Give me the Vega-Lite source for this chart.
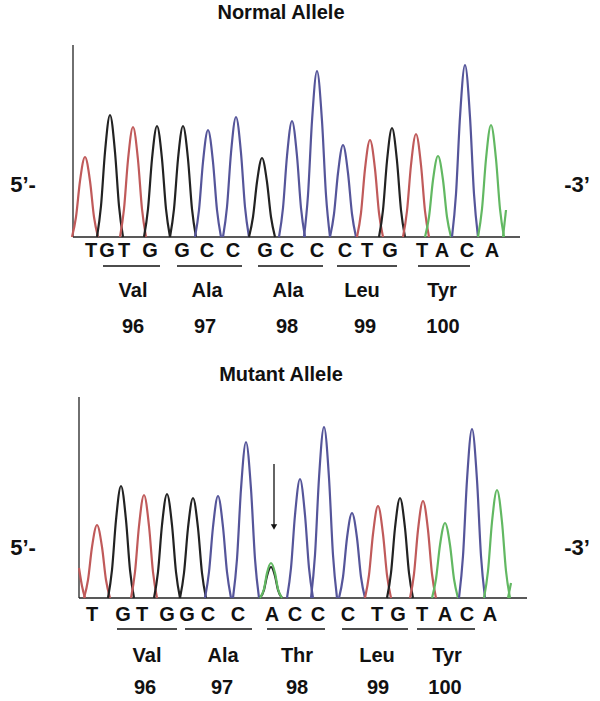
{
  "$schema": "https://vega.github.io/schema/vega-lite/v6.json",
  "background": "white",
  "padding": {"left": 0, "right": 0, "top": 3, "bottom": 0},
  "spacing": 0,
  "config": {"view": {"stroke": null}, "text": {"font": "Liberation Sans, Arial, sans-serif", "fontWeight": "bold", "color": "#111"}},
  "datasets": {
    "nt": [
      {"k":1,"b":"T","x":72,"y":0},{"k":1,"b":"T","x":76,"y":20},{"k":1,"b":"T","x":80,"y":56},{"k":1,"b":"T","x":85,"y":80},{"k":1,"b":"T","x":90,"y":56},{"k":1,"b":"T","x":94,"y":20},{"k":1,"b":"T","x":98,"y":0},
      {"k":2,"b":"G","x":97,"y":0},{"k":2,"b":"G","x":101,"y":31},{"k":2,"b":"G","x":105,"y":85},{"k":2,"b":"G","x":110,"y":122},{"k":2,"b":"G","x":115,"y":85},{"k":2,"b":"G","x":119,"y":31},{"k":2,"b":"G","x":123,"y":0},
      {"k":3,"b":"T","x":120,"y":0},{"k":3,"b":"T","x":124,"y":28},{"k":3,"b":"T","x":128,"y":77},{"k":3,"b":"T","x":133,"y":110},{"k":3,"b":"T","x":138,"y":77},{"k":3,"b":"T","x":142,"y":28},{"k":3,"b":"T","x":146,"y":0},
      {"k":4,"b":"G","x":144,"y":0},{"k":4,"b":"G","x":148,"y":28},{"k":4,"b":"G","x":152,"y":78},{"k":4,"b":"G","x":157,"y":111},{"k":4,"b":"G","x":162,"y":78},{"k":4,"b":"G","x":166,"y":28},{"k":4,"b":"G","x":170,"y":0},
      {"k":5,"b":"G","x":170,"y":0},{"k":5,"b":"G","x":174,"y":28},{"k":5,"b":"G","x":178,"y":78},{"k":5,"b":"G","x":183,"y":111},{"k":5,"b":"G","x":188,"y":78},{"k":5,"b":"G","x":192,"y":28},{"k":5,"b":"G","x":196,"y":0},
      {"k":6,"b":"C","x":195,"y":0},{"k":6,"b":"C","x":199,"y":27},{"k":6,"b":"C","x":203,"y":75},{"k":6,"b":"C","x":208,"y":107},{"k":6,"b":"C","x":213,"y":75},{"k":6,"b":"C","x":217,"y":27},{"k":6,"b":"C","x":221,"y":0},
      {"k":7,"b":"C","x":223,"y":0},{"k":7,"b":"C","x":227,"y":30},{"k":7,"b":"C","x":231,"y":84},{"k":7,"b":"C","x":236,"y":120},{"k":7,"b":"C","x":241,"y":84},{"k":7,"b":"C","x":245,"y":30},{"k":7,"b":"C","x":249,"y":0},
      {"k":8,"b":"G","x":249,"y":0},{"k":8,"b":"G","x":253,"y":20},{"k":8,"b":"G","x":257,"y":55},{"k":8,"b":"G","x":262,"y":79},{"k":8,"b":"G","x":267,"y":55},{"k":8,"b":"G","x":271,"y":20},{"k":8,"b":"G","x":275,"y":0},
      {"k":9,"b":"C","x":279,"y":0},{"k":9,"b":"C","x":283,"y":29},{"k":9,"b":"C","x":287,"y":81},{"k":9,"b":"C","x":292,"y":116},{"k":9,"b":"C","x":297,"y":81},{"k":9,"b":"C","x":301,"y":29},{"k":9,"b":"C","x":305,"y":0},
      {"k":10,"b":"C","x":304,"y":0},{"k":10,"b":"C","x":308,"y":42},{"k":10,"b":"C","x":312,"y":116},{"k":10,"b":"C","x":317,"y":166},{"k":10,"b":"C","x":322,"y":116},{"k":10,"b":"C","x":326,"y":42},{"k":10,"b":"C","x":330,"y":0},
      {"k":11,"b":"C","x":330,"y":0},{"k":11,"b":"C","x":334,"y":23},{"k":11,"b":"C","x":338,"y":64},{"k":11,"b":"C","x":343,"y":92},{"k":11,"b":"C","x":348,"y":64},{"k":11,"b":"C","x":352,"y":23},{"k":11,"b":"C","x":356,"y":0},
      {"k":12,"b":"T","x":357,"y":0},{"k":12,"b":"T","x":361,"y":24},{"k":12,"b":"T","x":365,"y":68},{"k":12,"b":"T","x":370,"y":97},{"k":12,"b":"T","x":375,"y":68},{"k":12,"b":"T","x":379,"y":24},{"k":12,"b":"T","x":383,"y":0},
      {"k":13,"b":"G","x":379,"y":0},{"k":13,"b":"G","x":383,"y":27},{"k":13,"b":"G","x":387,"y":76},{"k":13,"b":"G","x":392,"y":109},{"k":13,"b":"G","x":397,"y":76},{"k":13,"b":"G","x":401,"y":27},{"k":13,"b":"G","x":405,"y":0},
      {"k":14,"b":"T","x":403,"y":0},{"k":14,"b":"T","x":407,"y":26},{"k":14,"b":"T","x":411,"y":72},{"k":14,"b":"T","x":416,"y":103},{"k":14,"b":"T","x":421,"y":72},{"k":14,"b":"T","x":425,"y":26},{"k":14,"b":"T","x":429,"y":0},
      {"k":15,"b":"A","x":425,"y":0},{"k":15,"b":"A","x":429,"y":20},{"k":15,"b":"A","x":433,"y":57},{"k":15,"b":"A","x":438,"y":81},{"k":15,"b":"A","x":443,"y":57},{"k":15,"b":"A","x":447,"y":20},{"k":15,"b":"A","x":451,"y":0},
      {"k":16,"b":"C","x":452,"y":0},{"k":16,"b":"C","x":456,"y":43},{"k":16,"b":"C","x":460,"y":120},{"k":16,"b":"C","x":465,"y":172},{"k":16,"b":"C","x":470,"y":120},{"k":16,"b":"C","x":474,"y":43},{"k":16,"b":"C","x":478,"y":0},
      {"k":17,"b":"A","x":478,"y":0},{"k":17,"b":"A","x":482,"y":28},{"k":17,"b":"A","x":486,"y":78},{"k":17,"b":"A","x":491,"y":112},{"k":17,"b":"A","x":496,"y":78},{"k":17,"b":"A","x":500,"y":28},{"k":17,"b":"A","x":504,"y":0},
      {"k":18,"b":"A","x":503,"y":0},{"k":18,"b":"A","x":506,"y":27}
    ],
    "mt": [
      {"k":0,"b":"T","x":79,"y":30},{"k":0,"b":"T","x":82,"y":12},{"k":0,"b":"T","x":85,"y":0},
      {"k":1,"b":"T","x":84,"y":0},{"k":1,"b":"T","x":88,"y":18},{"k":1,"b":"T","x":92,"y":51},{"k":1,"b":"T","x":97,"y":73},{"k":1,"b":"T","x":102,"y":51},{"k":1,"b":"T","x":106,"y":18},{"k":1,"b":"T","x":110,"y":0},
      {"k":2,"b":"G","x":108,"y":0},{"k":2,"b":"G","x":112,"y":28},{"k":2,"b":"G","x":116,"y":78},{"k":2,"b":"G","x":121,"y":112},{"k":2,"b":"G","x":126,"y":78},{"k":2,"b":"G","x":130,"y":28},{"k":2,"b":"G","x":134,"y":0},
      {"k":3,"b":"T","x":131,"y":0},{"k":3,"b":"T","x":135,"y":26},{"k":3,"b":"T","x":139,"y":72},{"k":3,"b":"T","x":144,"y":103},{"k":3,"b":"T","x":149,"y":72},{"k":3,"b":"T","x":153,"y":26},{"k":3,"b":"T","x":157,"y":0},
      {"k":4,"b":"G","x":154,"y":0},{"k":4,"b":"G","x":158,"y":26},{"k":4,"b":"G","x":162,"y":73},{"k":4,"b":"G","x":167,"y":104},{"k":4,"b":"G","x":172,"y":73},{"k":4,"b":"G","x":176,"y":26},{"k":4,"b":"G","x":180,"y":0},
      {"k":5,"b":"G","x":180,"y":0},{"k":5,"b":"G","x":184,"y":25},{"k":5,"b":"G","x":188,"y":70},{"k":5,"b":"G","x":193,"y":100},{"k":5,"b":"G","x":198,"y":70},{"k":5,"b":"G","x":202,"y":25},{"k":5,"b":"G","x":206,"y":0},
      {"k":6,"b":"C","x":205,"y":0},{"k":6,"b":"C","x":209,"y":26},{"k":6,"b":"C","x":213,"y":71},{"k":6,"b":"C","x":218,"y":102},{"k":6,"b":"C","x":223,"y":71},{"k":6,"b":"C","x":227,"y":26},{"k":6,"b":"C","x":231,"y":0},
      {"k":7,"b":"C","x":233,"y":0},{"k":7,"b":"C","x":237,"y":39},{"k":7,"b":"C","x":241,"y":109},{"k":7,"b":"C","x":246,"y":156},{"k":7,"b":"C","x":251,"y":109},{"k":7,"b":"C","x":255,"y":39},{"k":7,"b":"C","x":259,"y":0},
      {"k":8,"b":"G","x":260,"y":0},{"k":8,"b":"G","x":264,"y":8},{"k":8,"b":"G","x":267,"y":22},{"k":8,"b":"G","x":271,"y":31},{"k":8,"b":"G","x":275,"y":22},{"k":8,"b":"G","x":278,"y":8},{"k":8,"b":"G","x":282,"y":0},
      {"k":9,"b":"A","x":260,"y":0},{"k":9,"b":"A","x":264,"y":9},{"k":9,"b":"A","x":267,"y":25},{"k":9,"b":"A","x":271,"y":35},{"k":9,"b":"A","x":275,"y":25},{"k":9,"b":"A","x":278,"y":9},{"k":9,"b":"A","x":282,"y":0},
      {"k":10,"b":"C","x":287,"y":0},{"k":10,"b":"C","x":291,"y":30},{"k":10,"b":"C","x":295,"y":83},{"k":10,"b":"C","x":300,"y":119},{"k":10,"b":"C","x":305,"y":83},{"k":10,"b":"C","x":309,"y":30},{"k":10,"b":"C","x":313,"y":0},
      {"k":11,"b":"C","x":311,"y":0},{"k":11,"b":"C","x":315,"y":43},{"k":11,"b":"C","x":319,"y":120},{"k":11,"b":"C","x":324,"y":171},{"k":11,"b":"C","x":329,"y":120},{"k":11,"b":"C","x":333,"y":43},{"k":11,"b":"C","x":337,"y":0},
      {"k":12,"b":"C","x":339,"y":0},{"k":12,"b":"C","x":343,"y":21},{"k":12,"b":"C","x":347,"y":60},{"k":12,"b":"C","x":352,"y":85},{"k":12,"b":"C","x":357,"y":60},{"k":12,"b":"C","x":361,"y":21},{"k":12,"b":"C","x":365,"y":0},
      {"k":13,"b":"T","x":365,"y":0},{"k":13,"b":"T","x":369,"y":23},{"k":13,"b":"T","x":373,"y":64},{"k":13,"b":"T","x":378,"y":92},{"k":13,"b":"T","x":383,"y":64},{"k":13,"b":"T","x":387,"y":23},{"k":13,"b":"T","x":391,"y":0},
      {"k":14,"b":"G","x":387,"y":0},{"k":14,"b":"G","x":391,"y":25},{"k":14,"b":"G","x":395,"y":70},{"k":14,"b":"G","x":400,"y":100},{"k":14,"b":"G","x":405,"y":70},{"k":14,"b":"G","x":409,"y":25},{"k":14,"b":"G","x":413,"y":0},
      {"k":15,"b":"T","x":410,"y":0},{"k":15,"b":"T","x":414,"y":24},{"k":15,"b":"T","x":418,"y":68},{"k":15,"b":"T","x":423,"y":97},{"k":15,"b":"T","x":428,"y":68},{"k":15,"b":"T","x":432,"y":24},{"k":15,"b":"T","x":436,"y":0},
      {"k":16,"b":"A","x":432,"y":0},{"k":16,"b":"A","x":436,"y":19},{"k":16,"b":"A","x":440,"y":53},{"k":16,"b":"A","x":445,"y":75},{"k":16,"b":"A","x":450,"y":53},{"k":16,"b":"A","x":454,"y":19},{"k":16,"b":"A","x":458,"y":0},
      {"k":17,"b":"C","x":459,"y":0},{"k":17,"b":"C","x":463,"y":42},{"k":17,"b":"C","x":467,"y":118},{"k":17,"b":"C","x":472,"y":169},{"k":17,"b":"C","x":477,"y":118},{"k":17,"b":"C","x":481,"y":42},{"k":17,"b":"C","x":485,"y":0},
      {"k":18,"b":"A","x":484,"y":0},{"k":18,"b":"A","x":488,"y":27},{"k":18,"b":"A","x":492,"y":76},{"k":18,"b":"A","x":497,"y":108},{"k":18,"b":"A","x":502,"y":76},{"k":18,"b":"A","x":506,"y":27},{"k":18,"b":"A","x":510,"y":0},
      {"k":19,"b":"A","x":508,"y":0},{"k":19,"b":"A","x":511,"y":15}
    ],
    "na": [
      {"kind":"base","t":"T","x":91,"y":-14},{"kind":"base","t":"G","x":107,"y":-14},{"kind":"base","t":"T","x":124,"y":-14},{"kind":"base","t":"G","x":150,"y":-14},
      {"kind":"base","t":"G","x":182,"y":-14},{"kind":"base","t":"C","x":207,"y":-14},{"kind":"base","t":"C","x":233,"y":-14},
      {"kind":"base","t":"G","x":265,"y":-14},{"kind":"base","t":"C","x":287,"y":-14},{"kind":"base","t":"C","x":317,"y":-14},
      {"kind":"base","t":"C","x":345,"y":-14},{"kind":"base","t":"T","x":367,"y":-14},{"kind":"base","t":"G","x":390,"y":-14},
      {"kind":"base","t":"T","x":422,"y":-14},{"kind":"base","t":"A","x":442,"y":-14},{"kind":"base","t":"C","x":467,"y":-14},{"kind":"base","t":"A","x":492,"y":-14},
      {"kind":"aa","t":"Val","x":133,"y":-54},{"kind":"aa","t":"Ala","x":207,"y":-54},{"kind":"aa","t":"Ala","x":288,"y":-54},{"kind":"aa","t":"Leu","x":362,"y":-54},{"kind":"aa","t":"Tyr","x":442,"y":-54},
      {"kind":"num","t":"96","x":133,"y":-90},{"kind":"num","t":"97","x":205,"y":-90},{"kind":"num","t":"98","x":287,"y":-90},{"kind":"num","t":"99","x":365,"y":-90},{"kind":"num","t":"100","x":443,"y":-90},
      {"kind":"end","t":"5’-","x":23,"y":52},{"kind":"end","t":"-3’","x":577,"y":52}
    ],
    "nl": [
      {"x":103,"x2":160,"y":-29},{"x":177,"x2":242,"y":-29},{"x":258,"x2":323,"y":-29},{"x":337,"x2":397,"y":-29},{"x":418,"x2":470,"y":-29}
    ],
    "ma": [
      {"kind":"base","t":"T","x":92,"y":-17},{"kind":"base","t":"G","x":123,"y":-17},{"kind":"base","t":"T","x":142,"y":-17},{"kind":"base","t":"G","x":167,"y":-17},
      {"kind":"base","t":"G","x":187,"y":-17},{"kind":"base","t":"C","x":208,"y":-17},{"kind":"base","t":"C","x":238,"y":-17},
      {"kind":"base","t":"A","x":272,"y":-17},{"kind":"base","t":"C","x":295,"y":-17},{"kind":"base","t":"C","x":318,"y":-17},
      {"kind":"base","t":"C","x":348,"y":-17},{"kind":"base","t":"T","x":377,"y":-17},{"kind":"base","t":"G","x":398,"y":-17},
      {"kind":"base","t":"T","x":422,"y":-17},{"kind":"base","t":"A","x":445,"y":-17},{"kind":"base","t":"C","x":467,"y":-17},{"kind":"base","t":"A","x":490,"y":-17},
      {"kind":"aa","t":"Val","x":147,"y":-58},{"kind":"aa","t":"Ala","x":223,"y":-58},{"kind":"aa","t":"Thr","x":297,"y":-58},{"kind":"aa","t":"Leu","x":377,"y":-58},{"kind":"aa","t":"Tyr","x":447,"y":-58},
      {"kind":"num","t":"96","x":145,"y":-90},{"kind":"num","t":"97","x":222,"y":-90},{"kind":"num","t":"98","x":297,"y":-90},{"kind":"num","t":"99","x":378,"y":-90},{"kind":"num","t":"100","x":445,"y":-90},
      {"kind":"end","t":"5’-","x":23,"y":50},{"kind":"end","t":"-3’","x":577,"y":50}
    ],
    "ml": [
      {"x":117,"x2":177,"y":-31},{"x":185,"x2":252,"y":-31},{"x":267,"x2":325,"y":-31},{"x":342,"x2":408,"y":-31},{"x":417,"x2":475,"y":-31}
    ]
  },
  "vconcat": [
    {
      "title": {"text": "Normal Allele", "font": "Liberation Sans, Arial, sans-serif", "fontSize": 20, "fontWeight": "bold", "color": "#111", "anchor": "middle", "dx": -19, "offset": 5},
      "width": 600, "height": 337,
      "layer": [
        {"data": {"values": [{"x":73,"y":0,"x2":73,"y2":192},{"x":73,"y":0,"x2":520,"y2":0}]},
         "mark": {"type": "rule", "color": "#222", "strokeWidth": 1.3},
         "encoding": {"x": {"field":"x","type":"quantitative","scale":{"domain":[0,600],"nice":false,"zero":false},"axis":null},
                      "y": {"field":"y","type":"quantitative","scale":{"domain":[-128,209],"nice":false,"zero":false},"axis":null},
                      "x2": {"field":"x2"}, "y2": {"field":"y2"}}},
        {"data": {"name": "nt"},
         "mark": {"type": "line", "interpolate": "monotone", "strokeWidth": 2.2},
         "encoding": {"x": {"field":"x","type":"quantitative","scale":{"domain":[0,600],"nice":false,"zero":false},"axis":null},
                      "y": {"field":"y","type":"quantitative","scale":{"domain":[-128,209],"nice":false,"zero":false},"axis":null},
                      "color": {"field":"b","type":"nominal","scale":{"domain":["A","C","G","T"],"range":["#62b862","#55559a","#222222","#c05a5a"]},"legend":null},
                      "detail": {"field":"k"}}},
        {"data": {"name": "nl"},
         "mark": {"type": "rule", "color": "#111", "strokeWidth": 1.6},
         "encoding": {"x": {"field":"x","type":"quantitative","scale":{"domain":[0,600],"nice":false,"zero":false},"axis":null},
                      "x2": {"field":"x2"},
                      "y": {"field":"y","type":"quantitative","scale":{"domain":[-128,209],"nice":false,"zero":false},"axis":null}}},
        {"data": {"name": "na"},
         "transform": [{"filter": "datum.kind !== 'end'"}],
         "mark": {"type": "text", "baseline": "middle", "align": "center", "fontSize": 20},
         "encoding": {"x": {"field":"x","type":"quantitative","scale":{"domain":[0,600],"nice":false,"zero":false},"axis":null},
                      "y": {"field":"y","type":"quantitative","scale":{"domain":[-128,209],"nice":false,"zero":false},"axis":null},
                      "text": {"field":"t"}}},
        {"data": {"name": "na"},
         "transform": [{"filter": "datum.kind === 'end'"}],
         "mark": {"type": "text", "baseline": "middle", "align": "center", "fontSize": 22},
         "encoding": {"x": {"field":"x","type":"quantitative","scale":{"domain":[0,600],"nice":false,"zero":false},"axis":null},
                      "y": {"field":"y","type":"quantitative","scale":{"domain":[-128,209],"nice":false,"zero":false},"axis":null},
                      "text": {"field":"t"}}}
      ]
    },
    {
      "title": {"text": "Mutant Allele", "font": "Liberation Sans, Arial, sans-serif", "fontSize": 20, "fontWeight": "bold", "color": "#111", "anchor": "middle", "dx": -19, "offset": 5},
      "width": 600, "height": 311,
      "layer": [
        {"data": {"values": [{"x":79,"y":0,"x2":79,"y2":201},{"x":79,"y":0,"x2":527,"y2":0}]},
         "mark": {"type": "rule", "color": "#222", "strokeWidth": 1.3},
         "encoding": {"x": {"field":"x","type":"quantitative","scale":{"domain":[0,600],"nice":false,"zero":false},"axis":null},
                      "y": {"field":"y","type":"quantitative","scale":{"domain":[-103,208],"nice":false,"zero":false},"axis":null},
                      "x2": {"field":"x2"}, "y2": {"field":"y2"}}},
        {"data": {"name": "mt"},
         "mark": {"type": "line", "interpolate": "monotone", "strokeWidth": 2.2},
         "encoding": {"x": {"field":"x","type":"quantitative","scale":{"domain":[0,600],"nice":false,"zero":false},"axis":null},
                      "y": {"field":"y","type":"quantitative","scale":{"domain":[-103,208],"nice":false,"zero":false},"axis":null},
                      "color": {"field":"b","type":"nominal","scale":{"domain":["A","C","G","T"],"range":["#62b862","#55559a","#222222","#c05a5a"]},"legend":null},
                      "detail": {"field":"k"}}},
        {"data": {"values": [{"x":274,"y":134,"y2":72}]},
         "mark": {"type": "rule", "color": "#111", "strokeWidth": 1.3},
         "encoding": {"x": {"field":"x","type":"quantitative","scale":{"domain":[0,600],"nice":false,"zero":false},"axis":null},
                      "y": {"field":"y","type":"quantitative","scale":{"domain":[-103,208],"nice":false,"zero":false},"axis":null},
                      "y2": {"field":"y2"}}},
        {"data": {"values": [{"x":274,"y":71}]},
         "mark": {"type": "point", "shape": "triangle-down", "filled": true, "color": "#111", "size": 40, "opacity": 1},
         "encoding": {"x": {"field":"x","type":"quantitative","scale":{"domain":[0,600],"nice":false,"zero":false},"axis":null},
                      "y": {"field":"y","type":"quantitative","scale":{"domain":[-103,208],"nice":false,"zero":false},"axis":null}}},
        {"data": {"name": "ml"},
         "mark": {"type": "rule", "color": "#111", "strokeWidth": 1.6},
         "encoding": {"x": {"field":"x","type":"quantitative","scale":{"domain":[0,600],"nice":false,"zero":false},"axis":null},
                      "x2": {"field":"x2"},
                      "y": {"field":"y","type":"quantitative","scale":{"domain":[-103,208],"nice":false,"zero":false},"axis":null}}},
        {"data": {"name": "ma"},
         "transform": [{"filter": "datum.kind !== 'end'"}],
         "mark": {"type": "text", "baseline": "middle", "align": "center", "fontSize": 20},
         "encoding": {"x": {"field":"x","type":"quantitative","scale":{"domain":[0,600],"nice":false,"zero":false},"axis":null},
                      "y": {"field":"y","type":"quantitative","scale":{"domain":[-103,208],"nice":false,"zero":false},"axis":null},
                      "text": {"field":"t"}}},
        {"data": {"name": "ma"},
         "transform": [{"filter": "datum.kind === 'end'"}],
         "mark": {"type": "text", "baseline": "middle", "align": "center", "fontSize": 22},
         "encoding": {"x": {"field":"x","type":"quantitative","scale":{"domain":[0,600],"nice":false,"zero":false},"axis":null},
                      "y": {"field":"y","type":"quantitative","scale":{"domain":[-103,208],"nice":false,"zero":false},"axis":null},
                      "text": {"field":"t"}}}
      ]
    }
  ]
}
